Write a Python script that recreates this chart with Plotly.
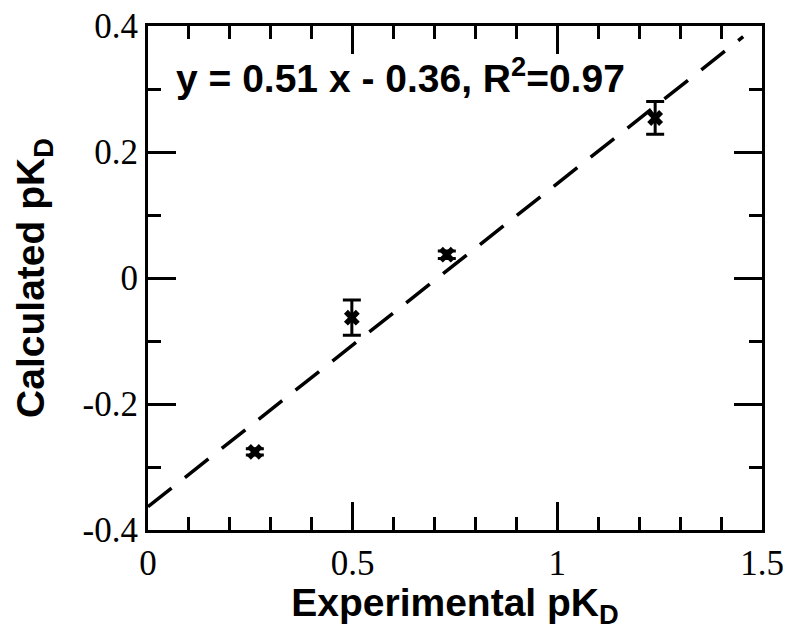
import plotly.graph_objects as go

exp_pkd = [0.261, 0.498, 0.730, 1.239]
calc_pkd = [-0.276, -0.063, 0.037, 0.254]
calc_err = [0.005, 0.028, 0.006, 0.026]

fit_x = [0.0, 1.454]
fit_y = [-0.363, 0.383]

x_ticks = [0, 0.5, 1, 1.5]
x_ticktext = ["0", "0.5", "1", "1.5"]
y_ticks = [-0.4, -0.2, 0, 0.2, 0.4]
y_ticktext = ["-0.4", "-0.2", "0", "0.2", "0.4"]

fig = go.Figure()
fig.add_trace(go.Scatter(
    x=fit_x, y=fit_y, mode="lines",
    line=dict(color="black", width=3.5, dash="30px,17px"),
    showlegend=False, hoverinfo="skip"))
fig.add_trace(go.Scatter(
    x=exp_pkd, y=calc_pkd, mode="markers",
    marker=dict(symbol="x", size=14, color="black"),
    error_y=dict(type="data", array=calc_err, color="black", thickness=3, width=9),
    showlegend=False))

tick_font = dict(family="Liberation Serif", size=35, color="black")
title_font = dict(family="Liberation Sans", size=39, color="black")

fig.update_xaxes(
    range=[0, 1.5], tickvals=x_ticks, ticktext=x_ticktext,
    ticks="inside", ticklen=28, tickwidth=2.5, tickcolor="black",
    minor=dict(dtick=0.1, tick0=0, ticks="inside", ticklen=13, tickwidth=2.5, tickcolor="black"),
    showline=True, linewidth=3, linecolor="black", mirror="allticks",
    showgrid=False, zeroline=False, tickfont=tick_font, ticklabeloverflow="allow",
    title=dict(text="<b>Experimental pK<sub>D</sub></b>", font=title_font, standoff=0))
fig.update_yaxes(
    range=[-0.4, 0.4], tickvals=y_ticks, ticktext=y_ticktext,
    ticks="inside", ticklen=28, tickwidth=2.5, tickcolor="black",
    minor=dict(dtick=0.1, tick0=0, ticks="inside", ticklen=13, tickwidth=2.5, tickcolor="black"),
    showline=True, linewidth=3, linecolor="black", mirror="allticks",
    showgrid=False, zeroline=False, tickfont=tick_font, ticklabeloverflow="allow",
    title=dict(text="<b>Calculated pK<sub>D</sub></b>", font=title_font, standoff=26))

fig.add_annotation(
    x=0.042, y=0.85, xref="paper", yref="paper", xanchor="left", yanchor="bottom",
    text="<b>y = 0.51 x - 0.36, R<sup>2</sup>=0.97</b>", showarrow=False,
    font=dict(family="Liberation Sans", size=39, color="black"))

fig.update_layout(
    width=783, height=622,
    margin=dict(l=140, r=29, t=18, b=100, autoexpand=False),
    plot_bgcolor="white", paper_bgcolor="white")

fig.write_html("out.html")
